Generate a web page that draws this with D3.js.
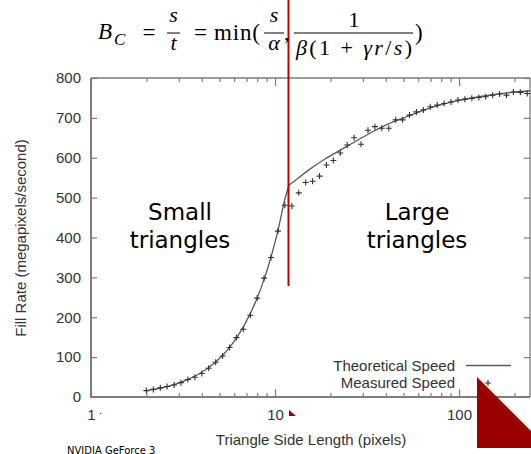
<!DOCTYPE html>
<html>
<head>
<meta charset="utf-8">
<script src="https://cdn.jsdelivr.net/npm/d3@7"></script>
<style>
html,body{margin:0;padding:0;background:#fff;}
svg{display:block;}
</style>
</head>
<body>
<svg id="chart" width="531" height="454"></svg>
<script>
// ---- data ----
const measuredX = [2, 2.18, 2.38, 2.59, 2.83, 3.08, 3.36, 3.67, 4, 4.36, 4.76, 5.19, 5.66, 6.17, 6.73, 7.34, 8, 8.72, 9.51, 10.37, 11.31, 12.34, 13.45, 14.67, 16, 17.45, 19.03, 20.75, 22.63, 24.68, 26.91, 29.34, 32, 34.9, 38.05, 41.5, 45.25, 49.35, 53.82, 58.69, 64, 69.79, 76.11, 83, 90.51, 98.7, 107.6, 117.4, 128, 139.6, 152.2, 166, 181, 197.4, 215.3, 234.8];
const measuredY = [16, 19, 23, 26.5, 30, 36, 44, 49.5, 59, 72, 87, 103, 124, 149, 170, 205, 248, 298, 350, 416, 481, 479, 512, 538, 541, 554, 582, 593, 612, 632, 650, 634, 669, 678, 674, 674, 695, 695, 707, 715, 720, 728, 732, 736, 740, 745, 747, 749, 751, 753, 757, 760, 757, 765, 764, 761];

const theoX = [2, 2.38, 2.83, 3.36, 4, 4.76, 5.66, 6.73, 8, 8.72, 9.51, 10.37, 11.31, 11.9, 13.45, 15.2, 18.7, 23, 28.4, 33.5, 41.3, 50, 60, 70, 83, 100, 120, 140, 165, 200, 243];
const theoY = [15.5, 22, 31, 44, 62, 88, 124, 176, 248, 295, 351, 417, 496, 531, 550, 569, 597, 621, 645, 664, 685, 700, 714, 725, 735, 744, 750.5, 755.5, 760, 764.5, 768];
const kinkIndex = 13;

const yTicks = [0, 100, 200, 300, 400, 500, 600, 700, 800];
const xMajorTicks = [1, 10, 100];
const xMinorTicks = [2, 3, 4, 5, 6, 7, 8, 9, 20, 30, 40, 50, 60, 70, 80, 90, 200];
const xTickLabels = ["1", "10", "100"];

const xTitle = "Triangle Side Length (pixels)";
const yTitle = "Fill Rate (megapixels/second)";
const legendLabels = ["Theoretical Speed", "Measured Speed"];
const regionLabels = [["Small", "triangles"], ["Large", "triangles"]];
const footnote = "NVIDIA GeForce 3";

// ---- layout ----
const L = 91, R = 530, T = 78, B = 397;
const svg = d3.select("#chart");
const x = d3.scaleLog().domain([1, 243]).range([L, R]);
const y = d3.scaleLinear().domain([0, 800]).range([B, T]);

const sans = "'Liberation Sans', Arial, Helvetica, sans-serif";
const frameColor = "#7d7d7d";

// axes
function styleAxis(g) {
  g.select(".domain").remove();
  g.selectAll(".tick line").attr("stroke", frameColor).attr("stroke-width", 1.2);
  g.selectAll(".tick text").attr("fill", "#333").style("font-family", sans).style("font-size", "15px");
}
svg.append("g").attr("transform", `translate(${L},0)`)
  .call(d3.axisLeft(y).tickValues(yTicks).tickSizeInner(-6).tickSizeOuter(0).tickPadding(10).tickFormat(d3.format("d")))
  .call(styleAxis);
svg.append("g").attr("transform", `translate(${R},0)`)
  .call(d3.axisRight(y).tickValues(yTicks).tickSizeInner(-6).tickSizeOuter(0).tickFormat(""))
  .call(styleAxis);
svg.append("g").attr("transform", `translate(0,${B})`)
  .call(d3.axisBottom(x).tickValues(xMajorTicks).tickSizeInner(-8).tickSizeOuter(0).tickPadding(12).tickFormat((d, i) => xTickLabels[i]))
  .call(styleAxis);
svg.append("g").attr("transform", `translate(0,${B})`)
  .call(d3.axisBottom(x).tickValues(xMinorTicks).tickSizeInner(-4).tickSizeOuter(0).tickFormat(""))
  .call(styleAxis);
svg.append("g").attr("transform", `translate(0,${T})`)
  .call(d3.axisTop(x).tickValues(xMajorTicks).tickSizeInner(-8).tickSizeOuter(0).tickFormat(""))
  .call(styleAxis);
svg.append("g").attr("transform", `translate(0,${T})`)
  .call(d3.axisTop(x).tickValues(xMinorTicks).tickSizeInner(-4).tickSizeOuter(0).tickFormat(""))
  .call(styleAxis);

// frame
svg.append("line").attr("x1", L).attr("x2", R).attr("y1", T).attr("y2", T).attr("stroke", frameColor).attr("stroke-width", 1.3);
svg.append("line").attr("x1", R).attr("x2", R).attr("y1", T).attr("y2", B).attr("stroke", frameColor).attr("stroke-width", 1.3);
svg.append("line").attr("x1", L).attr("x2", L).attr("y1", T).attr("y2", B + 1).attr("stroke", frameColor).attr("stroke-width", 2);
svg.append("line").attr("x1", L - 1).attr("x2", R).attr("y1", B).attr("y2", B).attr("stroke", frameColor).attr("stroke-width", 2);

// theoretical line (two smooth branches meeting at the kink)
const theo = theoX.map((v, i) => [v, theoY[i]]);
const lineGen = d3.line().x(d => x(d[0])).y(d => y(d[1])).curve(d3.curveMonotoneX);
[theo.slice(0, kinkIndex + 1), theo.slice(kinkIndex)].forEach(seg => {
  svg.append("path").attr("d", lineGen(seg)).attr("fill", "none")
    .attr("stroke", "#5a5a5a").attr("stroke-width", 1.3);
});

// measured markers
const meas = measuredX.map((v, i) => [v, measuredY[i]]);
svg.append("g").selectAll("path").data(meas).join("path")
  .attr("d", d => { const cx = x(d[0]), cy = y(d[1]); return `M${cx - 3},${cy}H${cx + 3}M${cx},${cy - 3}V${cy + 3}`; })
  .attr("stroke", "#333").attr("stroke-width", 1.1).attr("fill", "none");

// axis titles
svg.append("text").attr("x", 311).attr("y", 445).attr("text-anchor", "middle")
  .style("font-family", sans).style("font-size", "15px").attr("fill", "#333").text(xTitle);
svg.append("text").attr("transform", "translate(26,238) rotate(-90)").attr("text-anchor", "middle")
  .style("font-family", sans).style("font-size", "15px").attr("fill", "#333").text(yTitle);

// legend
svg.append("text").attr("x", 455).attr("y", 371).attr("text-anchor", "end")
  .style("font-family", sans).style("font-size", "15px").attr("fill", "#333").text(legendLabels[0]);
svg.append("text").attr("x", 455).attr("y", 388).attr("text-anchor", "end")
  .style("font-family", sans).style("font-size", "15px").attr("fill", "#333").text(legendLabels[1]);
svg.append("line").attr("x1", 466).attr("x2", 511).attr("y1", 365.5).attr("y2", 365.5)
  .attr("stroke", "#5a5a5a").attr("stroke-width", 1.3);
svg.append("path").attr("d", "M485,383H491M488,380V386").attr("stroke", "#333").attr("stroke-width", 1.1);

// region labels
const big = "'DejaVu Sans', Verdana, sans-serif";
[[180, regionLabels[0]], [417, regionLabels[1]]].forEach(([cx, lines]) => {
  lines.forEach((t, i) => {
    svg.append("text").attr("x", cx).attr("y", 220 + i * 28).attr("text-anchor", "middle")
      .style("font-family", big).style("font-size", "23px").attr("fill", "#000").text(t);
  });
});

// red divider line
svg.append("line").attr("x1", 288.5).attr("x2", 288.5).attr("y1", 0).attr("y2", 286)
  .attr("stroke", "#c00000").attr("stroke-width", 2);

// red decorations
svg.append("polygon").attr("points", "477,377 477,448 548,448").attr("fill", "#990000");
svg.append("polygon").attr("points", "289,410 289,416 296,416").attr("fill", "#990000");
svg.append("rect").attr("x", 100).attr("y", 413).attr("width", 1).attr("height", 1).attr("fill", "#990000");

// footnote
svg.append("text").attr("x", 67).attr("y", 453.5).style("font-family", big).style("font-size", "10px")
  .attr("fill", "#000").text(footnote);

// formula
const serif = "'Liberation Serif', 'Times New Roman', serif";
function ft(parts, xx, yy, size, opts = {}) {
  const t = svg.append("text").attr("x", xx).attr("y", yy)
    .style("font-family", serif).style("font-size", size + "px").attr("fill", "#000")
    .attr("text-anchor", opts.anchor || "start");
  if (opts.len) t.attr("textLength", opts.len).attr("lengthAdjust", "spacing");
  parts.forEach(([txt, it]) => {
    t.append("tspan").style("font-style", it ? "italic" : "normal").text(txt);
  });
  return t;
}
function bar(x1, x2, yy) {
  svg.append("line").attr("x1", x1).attr("x2", x2).attr("y1", yy).attr("y2", yy)
    .attr("stroke", "#000").attr("stroke-width", 1);
}
ft([["B", true]], 98, 39, 23);
ft([["C", true]], 114, 45, 17);
ft([["=", false]], 149, 40, 23, {anchor: "middle"});
ft([["s", true]], 173.5, 22, 22, {anchor: "middle"});
bar(167, 180, 33);
ft([["t", true]], 173.5, 50, 22, {anchor: "middle"});
ft([["=", false]], 200.5, 40, 23, {anchor: "middle"});
ft([["min(", false]], 214, 40, 23, {len: 46});
ft([["s", true]], 274, 22, 22, {anchor: "middle"});
bar(264, 284, 33);
ft([["α", true]], 274, 50, 22, {anchor: "middle"});
ft([[",", false]], 284, 40, 22);
ft([["1", false]], 354, 27, 22, {anchor: "middle"});
bar(294, 413, 33);
ft([["β", true], ["(1 + ", false], ["γr", true], ["/", false], ["s", true], [")", false]], 354, 55, 22, {anchor: "middle", len: 116});
ft([[")", false]], 415, 40, 23);
</script>
</body>
</html>
